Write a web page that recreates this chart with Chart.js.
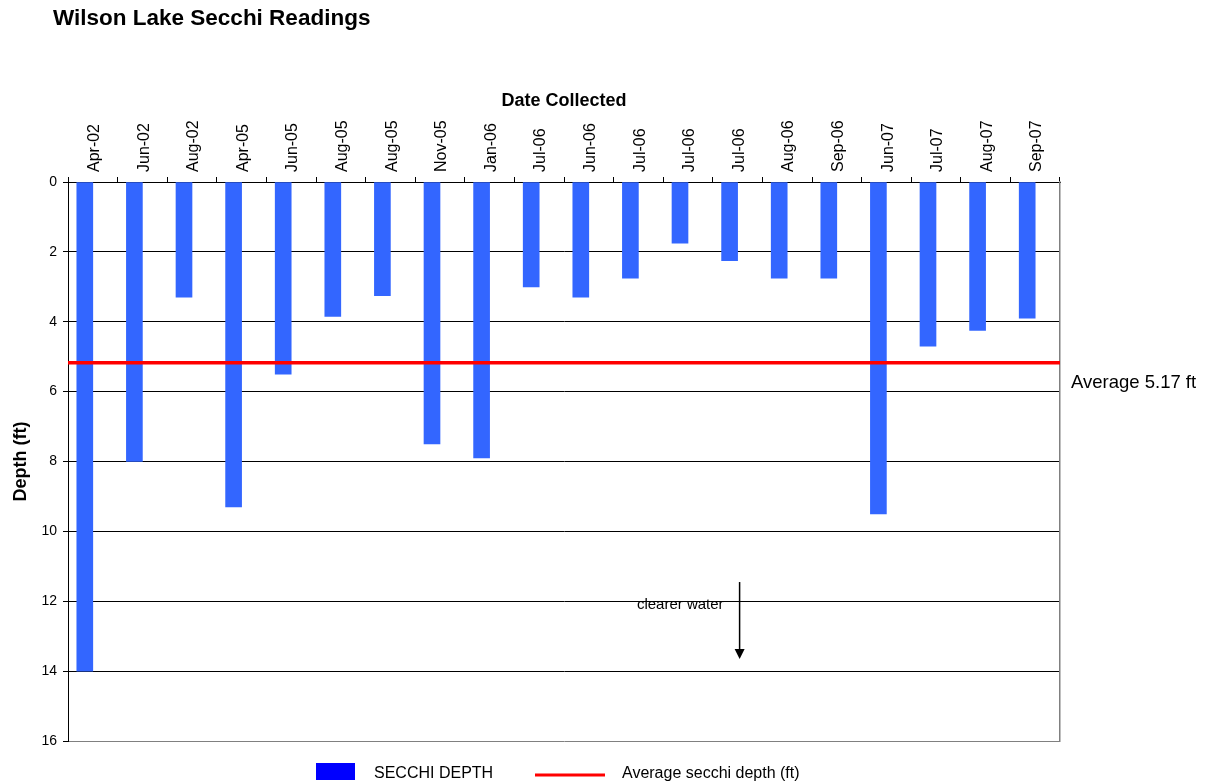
<!DOCTYPE html>
<html>
<head>
<meta charset="utf-8">
<script src="https://cdn.jsdelivr.net/npm/chart.js@4.4.1/dist/chart.umd.min.js"></script>
<style>
  html, body { margin: 0; padding: 0; background: #fff; }
  #wrap { width: 1215px; height: 784px; position: relative; }
</style>
</head>
<body>
<div id="wrap"><canvas id="secchi"></canvas></div>
<script>
// Wilson Lake secchi readings (depth in ft)
const dates = ['Apr-02','Jun-02','Aug-02','Apr-05','Jun-05','Aug-05','Aug-05','Nov-05','Jan-06','Jul-06',
               'Jun-06','Jul-06','Jul-06','Jul-06','Aug-06','Sep-06','Jun-07','Jul-07','Aug-07','Sep-07'];
const depths = [14.0, 8.0, 3.3, 9.3, 5.5, 3.85, 3.25, 7.5, 7.9, 3.0,
                3.3, 2.75, 1.75, 2.25, 2.75, 2.75, 9.5, 4.7, 4.25, 3.9];
const avgDepth = 5.17;
const avgSpan = [0, 1];          // the average line runs across the whole plot

const FONT = '"Liberation Sans", Arial, sans-serif';
const BLUE = '#3366ff';
const RED = '#ff0000';

const extras = {
  id: 'extras',
  afterDraw(chart) {
    const { ctx, chartArea: a, scales: { x, y } } = chart;
    ctx.save();
    ctx.fillStyle = '#000';
    ctx.textAlign = 'left';
    ctx.textBaseline = 'middle';

    // title
    ctx.font = `bold 22.5px ${FONT}`;
    ctx.fillText('Wilson Lake Secchi Readings', 53, 19);

    // average label, right of the plot
    ctx.font = `18.5px ${FONT}`;
    ctx.fillText(`Average ${avgDepth} ft`, a.right + 11, y.getPixelForValue(avgDepth) + 20);

    // "clearer water" arrow
    const ax = x.getPixelForValue(13) + 2;
    const y0 = y.getPixelForValue(11.45), y1 = y.getPixelForValue(13.65);
    ctx.font = `15px ${FONT}`;
    ctx.textAlign = 'right';
    ctx.fillText('clearer water', ax - 16, y.getPixelForValue(12.1));
    ctx.strokeStyle = '#000';
    ctx.lineWidth = 1.5;
    ctx.beginPath(); ctx.moveTo(ax, y0); ctx.lineTo(ax, y1 - 8); ctx.stroke();
    ctx.beginPath(); ctx.moveTo(ax - 5, y1 - 10); ctx.lineTo(ax + 5, y1 - 10); ctx.lineTo(ax, y1); ctx.closePath(); ctx.fill();

    // legend
    const ly = a.bottom + 31;
    ctx.textAlign = 'left';
    ctx.font = `16px ${FONT}`;
    ctx.fillStyle = '#0000ff';
    ctx.fillRect(316, ly - 9, 39, 17);
    ctx.fillStyle = '#000';
    ctx.fillText('SECCHI DEPTH', 374, ly + 2);
    ctx.strokeStyle = RED; ctx.lineWidth = 3;
    ctx.beginPath(); ctx.moveTo(535, ly + 3); ctx.lineTo(605, ly + 3); ctx.stroke();
    ctx.fillText('Average secchi depth (ft)', 622, ly + 2);
    ctx.restore();
  }
};

new Chart(document.getElementById('secchi'), {
  data: {
    labels: dates,
    datasets: [
      { type: 'line', label: 'Average secchi depth (ft)', xAxisID: 'x2', order: 0,
        data: avgSpan.map(v => ({ x: v, y: avgDepth })),
        borderColor: RED, borderWidth: 3.5, pointRadius: 0, fill: false },
      { type: 'bar', label: 'SECCHI DEPTH', data: depths, order: 1,
        backgroundColor: BLUE, borderWidth: 0, barThickness: 16 },
      { type: 'bar', label: '', data: dates.map(() => null), order: 2,
        backgroundColor: BLUE, barThickness: 16 }
    ]
  },
  options: {
    responsive: true,
    maintainAspectRatio: false,
    animation: false,
    layout: { padding: { left: 0, top: 0, right: 0, bottom: 43 } },
    plugins: { legend: { display: false }, tooltip: { enabled: false }, title: { display: false } },
    scales: {
      x: {
        type: 'category', position: 'top',
        afterFit: s => { s.height = 182; },
        grid: { drawOnChartArea: false, drawTicks: true, tickLength: 5, color: '#000', offset: true },
        border: { display: true, color: '#000', width: 1 },
        ticks: { autoSkip: false, minRotation: 90, maxRotation: 90, padding: 5, labelOffset: 21,
                 color: '#000', font: { family: FONT, size: 16 } },
        title: { display: true, text: 'Date Collected', color: '#000', padding: { top: 90, bottom: 0 },
                 font: { family: FONT, size: 18, weight: 'bold' } }
      },
      x2: { type: 'linear', display: false, min: 0, max: 1 },
      y: {
        min: 0, max: 16, reverse: true, position: 'left',
        afterFit: s => { s.width = 68; },
        grid: { color: c => (c.tick && c.tick.value === 16) ? '#808080' : '#000', lineWidth: 1,
                tickColor: '#000', tickLength: 5 },
        border: { display: true, color: '#000', width: 1 },
        ticks: { stepSize: 2, padding: 6, color: '#000', font: { family: FONT, size: 14 } },
        title: { display: true, text: 'Depth (ft)', color: '#000', padding: { top: 10, bottom: 0 },
                 font: { family: FONT, size: 18, weight: 'bold' } }
      },
      yR: {
        type: 'linear', position: 'right', min: 0, max: 16, reverse: true,
        afterFit: s => { s.width = 155; },
        grid: { drawOnChartArea: false, drawTicks: false },
        border: { display: true, color: '#808080', width: 1.5 },
        ticks: { display: false }
      }
    }
  },
  plugins: [extras]
});
</script>
</body>
</html>
